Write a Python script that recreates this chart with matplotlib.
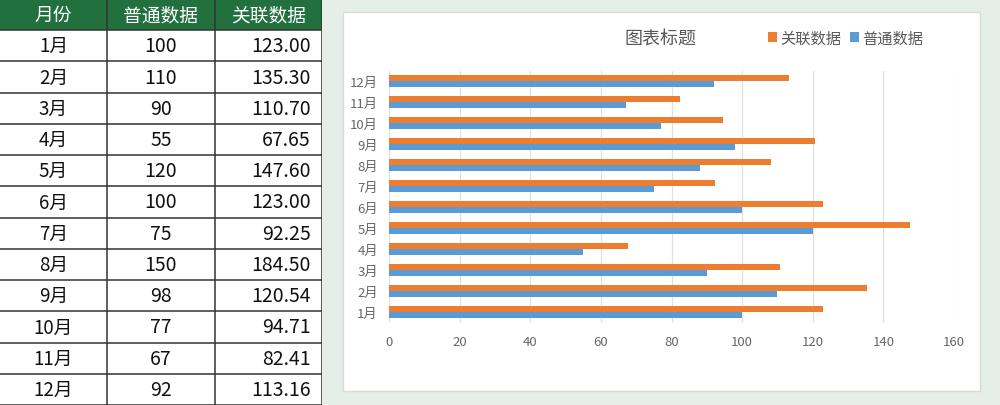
import numpy as np
import matplotlib
matplotlib.use('Agg')
import matplotlib.pyplot as plt
from matplotlib.patches import Rectangle

plt.rcParams['font.family'] = ['Noto Sans CJK SC', 'DejaVu Sans']

# table data
months = ['1月', '2月', '3月', '4月', '5月', '6月',
          '7月', '8月', '9月', '10月', '11月', '12月']
normal = [100, 110, 90, 55, 120, 100, 75, 150, 98, 77, 67, 92]
linked = [123.00, 135.30, 110.70, 67.65, 147.60, 123.00,
          92.25, 184.50, 120.54, 94.71, 82.41, 113.16]
headers = ['月份', '普通数据', '关联数据']

# chart data (the chart shows 88 for August, not the table's 150)
chart_normal = [100, 110, 90, 55, 120, 100, 75, 88, 98, 77, 67, 92]
chart_linked = [123.00, 135.30, 110.70, 67.65, 147.60, 123.00,
                92.25, 108.24, 120.54, 94.71, 82.41, 113.16]
x_ticks = [0, 20, 40, 60, 80, 100, 120, 140, 160]

ORANGE = '#ED7D31'
BLUE = '#5B9BD5'
GREEN = '#23703F'
BG = '#E6EEEA'
W, H = 1000, 406

fig = plt.figure(figsize=(W / 100, H / 100), dpi=100)
fig.patch.set_facecolor(BG)

# ---- table on the left (pixel coords) ----
tax = fig.add_axes([0, 0, 322 / W, 1])
tax.set_xlim(0, 322)
tax.set_ylim(H, 0)
tax.axis('off')
col_edges = [0, 107, 215, 322]
row_h = H / 13.0

tax.add_patch(Rectangle((0, 0), 322, row_h, facecolor=GREEN, edgecolor='none'))
tax.add_patch(Rectangle((0, row_h), 322, H - row_h, facecolor='white', edgecolor='none'))
for j, hd in enumerate(headers):
    cx = (col_edges[j] + col_edges[j + 1]) / 2
    tax.text(cx, row_h / 2, hd, color='white', fontsize=13.5, ha='center', va='center')

for i, m in enumerate(months):
    yc = row_h * (i + 1.5)
    tax.text((col_edges[0] + col_edges[1]) / 2, yc, m, fontsize=13.5, ha='center', va='center',
             color='#111111')
    tax.text((col_edges[1] + col_edges[2]) / 2, yc, f'{normal[i]}', fontsize=14, ha='center',
             va='center', color='#111111')
    tax.text(col_edges[3] - 11, yc, f'{linked[i]:.2f}', fontsize=14, ha='right', va='center',
             color='#111111')

for k in range(1, 14):
    tax.plot([0, 322], [row_h * k, row_h * k], color='#333333', lw=1.1)
for xe in col_edges[1:]:
    tax.plot([xe, xe], [0, H], color='#333333', lw=1.1)

# ---- chart panel ----
panel = Rectangle((343 / W, 1 - 392 / H), (980 - 343) / W, (392 - 13) / H,
                  transform=fig.transFigure, facecolor='white',
                  edgecolor='#D6DDD9', lw=1, zorder=-1)
fig.patches.append(panel)

ax = fig.add_axes([389 / W, 1 - 323.5 / H, (954 - 389) / W, (323.5 - 71.5) / H])
ax.set_zorder(2)
ax.set_facecolor('none')
y = np.arange(len(months))
bh = 0.27
ax.barh(y + bh / 2, chart_linked, height=bh, color=ORANGE, label='关联数据', zorder=3)
ax.barh(y - bh / 2, chart_normal, height=bh, color=BLUE, label='普通数据', zorder=3)
ax.set_xlim(0, 160)
ax.set_ylim(-0.5, 11.5)
ax.set_yticks(y)
ax.set_yticklabels(months)
ax.set_xticks(x_ticks)
ax.tick_params(length=0, labelsize=9.5, colors='#666666')
ax.tick_params(axis='x', pad=9)
ax.tick_params(axis='y', pad=8)
ax.grid(axis='x', color='#E0E0E0', lw=0.9, zorder=0)
for s in ax.spines.values():
    s.set_visible(False)

fig.text(660 / W, 1 - 40 / H, '图表标题', fontsize=13, color='#595959',
         ha='center', va='center')
handles, labels = ax.get_legend_handles_labels()
fig.legend(handles, labels, loc='center left', bbox_to_anchor=(754 / W, 1 - 39 / H),
           ncol=2, frameon=False, fontsize=11, handlelength=0.6, handleheight=0.6,
           handletextpad=0.2, columnspacing=0.6, labelcolor='#595959')

fig.savefig('out.png', dpi=100, facecolor=BG)
